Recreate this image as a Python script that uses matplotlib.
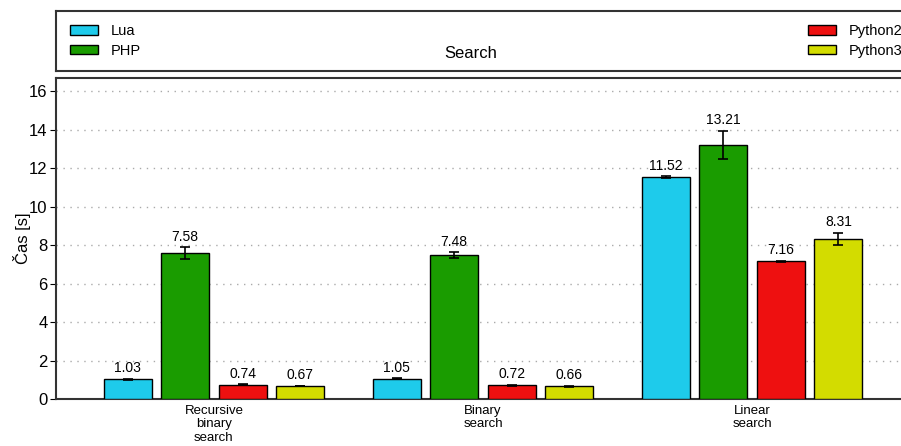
import numpy as np
import matplotlib
matplotlib.use('Agg')
import matplotlib.pyplot as plt
from matplotlib.patches import Patch

plt.rcParams['font.family'] = ['Liberation Sans', 'DejaVu Sans']

# Data
categories = ['Recursive\nbinary\nsearch', 'Binary\nsearch', 'Linear\nsearch']
languages = ['Lua', 'PHP', 'Python2', 'Python3']
colors = ['#1ecbeb', '#1a9c00', '#ee1010', '#d3dc00']
times = {
    'Lua': [1.03, 1.05, 11.52],
    'PHP': [7.58, 7.48, 13.21],
    'Python2': [0.74, 0.72, 7.16],
    'Python3': [0.67, 0.66, 8.31],
}
errors = {
    'Lua': [0.03, 0.03, 0.05],
    'PHP': [0.31, 0.15, 0.72],
    'Python2': [0.03, 0.03, 0.03],
    'Python3': [0.02, 0.02, 0.32],
}

W, H = 901, 446
fig = plt.figure(figsize=(W / 100, H / 100), dpi=100)

# main axes (right edge runs past the figure, like the original)
ax = fig.add_axes([56 / W, 1 - 399 / H, (910 - 56) / W, (399 - 78) / H])
x = np.arange(len(categories))
step = 0.214
width = 0.178
for i, lang in enumerate(languages):
    pos = x + (i - 1.5) * step
    ax.bar(pos, times[lang], width, color=colors[i], edgecolor='black', linewidth=1, zorder=3)
    ax.errorbar(pos, times[lang], yerr=errors[lang], fmt='none', ecolor='black',
                elinewidth=1.2, capsize=3.5, capthick=1.2, zorder=4)
    for px, v, e in zip(pos, times[lang], errors[lang]):
        ax.annotate(f'{v:.2f}', (px, v + e), xytext=(0, 2.5), textcoords='offset points',
                    ha='center', va='bottom', fontsize=10)

ax.set_xlim(-0.587, 2.587)
ax.set_ylim(0, 16.68)
ax.set_yticks(np.arange(0, 17, 2))
ax.set_xticks(x)
ax.set_xticklabels(categories, fontsize=9.5, linespacing=1.2)
ax.tick_params(axis='x', length=0, pad=4)
ax.tick_params(axis='y', labelsize=12, length=4, direction='out', pad=2)
ax.yaxis.grid(True, linestyle=(0, (1, 4)), color='#aaaaaa', linewidth=1, zorder=0)
ax.set_ylabel('Čas [s]', fontsize=12, va='center')
ax.yaxis.set_label_coords((22 - 56) / 854, 0.5)
for s in ax.spines.values():
    s.set_linewidth(1.5)
    s.set_color('#333333')

# legend box on top
lax = fig.add_axes([56 / W, 1 - 71 / H, (910 - 56) / W, (71 - 11) / H])
lax.set_xticks([])
lax.set_yticks([])
for s in lax.spines.values():
    s.set_linewidth(1.5)
    s.set_color('#333333')
lax.text((471 - 56) / 854, 0.29, 'Search', ha='center', va='center',
         fontsize=12, transform=lax.transAxes)

handles = [Patch(facecolor=c, edgecolor='black', linewidth=1) for c in colors]
leg_kw = dict(loc='center left', frameon=False, fontsize=10.5, handlelength=1.95,
              handleheight=0.62, labelspacing=0.38, borderpad=0, borderaxespad=0,
              handletextpad=0.82)
leg1 = lax.legend(handles[:2], languages[:2], bbox_to_anchor=((70 - 56) / 854, 0.5), **leg_kw)
lax.add_artist(leg1)
lax.legend(handles[2:], languages[2:], bbox_to_anchor=((808 - 56) / 854, 0.5), **leg_kw)

fig.savefig('out.png', dpi=100)
